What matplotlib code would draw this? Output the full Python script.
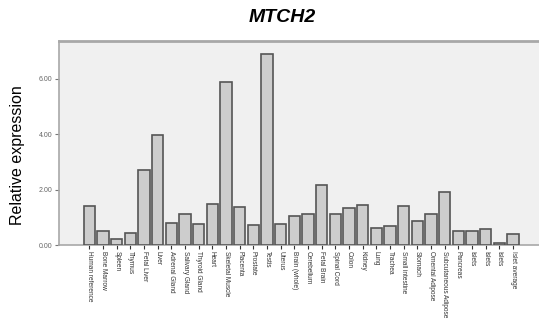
import matplotlib
matplotlib.use('Agg')
import matplotlib.pyplot as plt

tissues = ['Human reference', 'Bone Marrow', 'Spleen', 'Thymus', 'Fetal Liver',
           'Liver', 'Adrenal Gland', 'Salivary Gland', 'Thyroid Gland', 'Heart',
           'Skeletal Muscle', 'Placenta', 'Prostate', 'Testis', 'Uterus',
           'Brain (whole)', 'Cerebellum', 'Fetal Brain', 'Spinal Cord', 'Colon',
           'Kidney', 'Lung', 'Trachea', 'Small intestine', 'Stomach',
           'Omental Adipose', 'Subcutaneous Adipose', 'Pancreas', 'Islets',
           'Islets', 'Islets', 'Islet average']
expression = [1.42, 0.51, 0.23, 0.45, 2.70, 3.98, 0.81, 1.13, 0.75, 1.48,
              5.90, 1.36, 0.73, 6.91, 0.75, 1.06, 1.13, 2.16, 1.12, 1.34,
              1.46, 0.63, 0.67, 1.42, 0.87, 1.13, 1.92, 0.52, 0.51, 0.58,
              0.08, 0.40]
yticks = [0, 2, 4, 6]

plt.rcParams['font.family'] = ['Liberation Sans', 'DejaVu Sans']

fig = plt.figure(figsize=(5.39, 3.26), dpi=100)
ax = fig.add_axes([59 / 539, 81 / 326, 1 - 59 / 539, 204 / 326])
ax.set_facecolor('#f0f0f0')

x = range(len(tissues))
ax.bar(x, expression, width=0.82, color='#cdcdcd', edgecolor='#555555',
       linewidth=1.2, zorder=3)

ax.set_xlim(-2.22, 32.9)
ax.set_ylim(0, 7.37)
ax.set_xticks(list(x))
ax.set_xticklabels(tissues, rotation=270, fontsize=4.7, color='#333333')
ax.set_yticks(yticks)
ax.set_yticklabels(['%.2f' % v for v in yticks], fontsize=5, color='#666666')
ax.tick_params(axis='x', length=3, width=0.8, color='#333333', pad=1.5)
ax.tick_params(axis='y', length=3, width=0.8, color='#777777', pad=2)

for side in ('top', 'left', 'bottom'):
    ax.spines[side].set_color('#a8a8a8')
ax.spines['top'].set_linewidth(2)
ax.spines['left'].set_linewidth(1.2)
ax.spines['bottom'].set_linewidth(1.2)
ax.spines['right'].set_visible(False)

# axis title sits a little below the middle of the plot area
fig.text(18 / 539, 1 - 155 / 326, 'Relative expression', rotation=90,
         ha='center', va='center', fontsize=11.5)
fig.text(282 / 539, 1 - 18 / 326, 'MTCH2', ha='center', va='center',
         fontsize=14, fontweight='bold', fontstyle='italic')

fig.savefig('out.png', dpi=100)
